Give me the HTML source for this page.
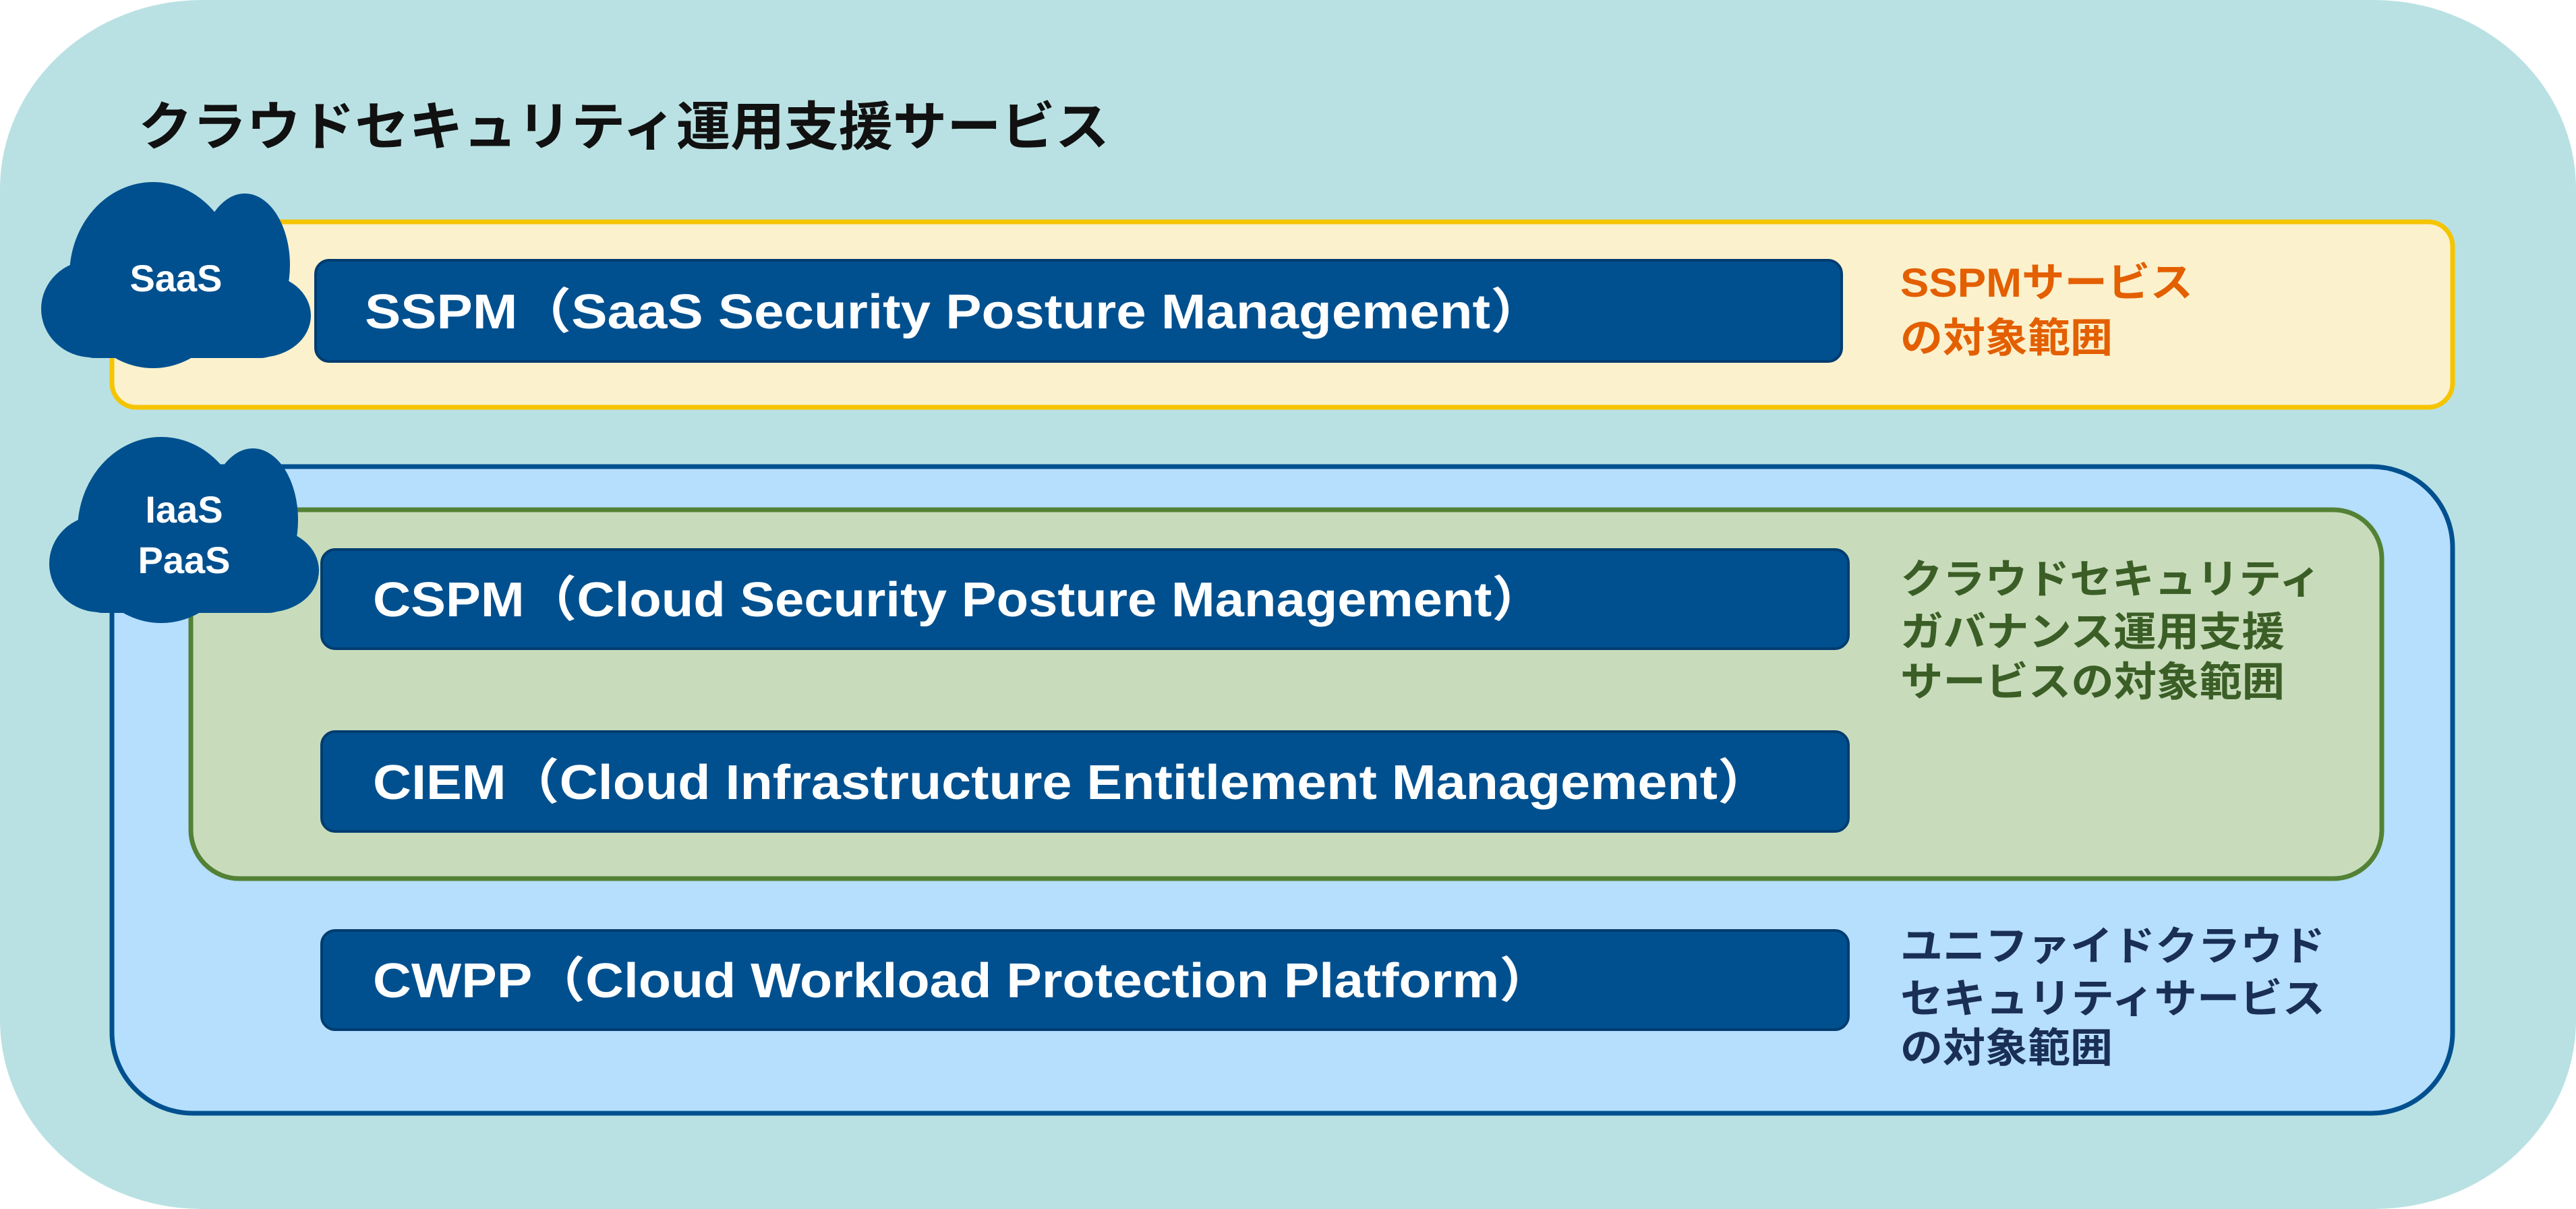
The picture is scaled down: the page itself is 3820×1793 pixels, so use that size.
<!DOCTYPE html>
<html><head><meta charset="utf-8"><style>
html,body{margin:0;padding:0;background:#fff;}
svg{display:block;}
text{font-family:"Liberation Sans","Noto Sans CJK JP",sans-serif;font-weight:bold;}
</style></head><body>
<svg width="3820" height="1793" viewBox="0 0 3820 1793" xmlns="http://www.w3.org/2000/svg">
<defs>
<g id="cloud">
<ellipse cx="166" cy="140" rx="124" ry="138" fill="#00508f"/>
<ellipse cx="302" cy="125" rx="67" ry="106" fill="#00508f"/>
<ellipse cx="75" cy="190" rx="75" ry="72" fill="#00508f"/>
<ellipse cx="325" cy="200" rx="75" ry="62" fill="#00508f"/>
<rect x="40" y="160" width="325" height="103" rx="40" fill="#00508f"/>
</g>
</defs>
<rect x="0" y="0" width="3820" height="1793" rx="300" ry="280" fill="#b9e1e3"/>
<text x="205" y="215" font-size="78" fill="#111" textLength="1440" lengthAdjust="spacingAndGlyphs">クラウドセキュリティ運用支援サービス</text>

<rect x="166" y="329" width="3471" height="275" rx="36" fill="#fbf1cd" stroke="#f5c400" stroke-width="7"/>
<rect x="468" y="386" width="2263" height="150" rx="20" fill="#00508f" stroke="#003c70" stroke-width="4"/>
<text x="541" y="487" font-size="72" fill="#fff" textLength="1749" lengthAdjust="spacingAndGlyphs">SSPM（SaaS Security Posture Management）</text>
<text x="2818" y="440" font-size="60" fill="#e35f00" textLength="434" lengthAdjust="spacingAndGlyphs">SSPMサービス</text>
<text x="2818" y="522" font-size="60" fill="#e35f00" textLength="315" lengthAdjust="spacingAndGlyphs">の対象範囲</text>
<use href="#cloud" x="61" y="268"/>
<text x="261" y="432" font-size="56" fill="#fff" text-anchor="middle">SaaS</text>

<rect x="166" y="692" width="3471" height="959" rx="120" fill="#b6defd" stroke="#00508f" stroke-width="7"/>
<rect x="283" y="756" width="3249" height="547" rx="72" fill="#c8dcbb" stroke="#538135" stroke-width="7"/>
<rect x="477" y="815" width="2264" height="147" rx="20" fill="#00508f" stroke="#003c70" stroke-width="4"/>
<text x="553" y="914" font-size="72" fill="#fff" textLength="1737" lengthAdjust="spacingAndGlyphs">CSPM（Cloud Security Posture Management）</text>
<rect x="477" y="1085" width="2264" height="148" rx="20" fill="#00508f" stroke="#003c70" stroke-width="4"/>
<text x="553" y="1185" font-size="72" fill="#fff" textLength="2073" lengthAdjust="spacingAndGlyphs">CIEM（Cloud Infrastructure Entitlement Management）</text>
<rect x="477" y="1380" width="2264" height="147" rx="20" fill="#00508f" stroke="#003c70" stroke-width="4"/>
<text x="553" y="1479" font-size="72" fill="#fff" textLength="1749" lengthAdjust="spacingAndGlyphs">CWPP（Cloud Workload Protection Platform）</text>

<text x="2818" y="880" font-size="60" fill="#3b5e26" textLength="624" lengthAdjust="spacingAndGlyphs">クラウドセキュリティ</text>
<text x="2818" y="958" font-size="60" fill="#3b5e26" textLength="570" lengthAdjust="spacingAndGlyphs">ガバナンス運用支援</text>
<text x="2818" y="1032" font-size="60" fill="#3b5e26" textLength="570" lengthAdjust="spacingAndGlyphs">サービスの対象範囲</text>

<text x="2818" y="1424" font-size="60" fill="#1a2f55" textLength="630" lengthAdjust="spacingAndGlyphs">ユニファイドクラウド</text>
<text x="2818" y="1502" font-size="60" fill="#1a2f55" textLength="630" lengthAdjust="spacingAndGlyphs">セキュリティサービス</text>
<text x="2818" y="1575" font-size="60" fill="#1a2f55" textLength="315" lengthAdjust="spacingAndGlyphs">の対象範囲</text>

<use href="#cloud" x="73" y="646"/>
<text x="273" y="775" font-size="56" fill="#fff" text-anchor="middle">IaaS</text>
<text x="273" y="850" font-size="56" fill="#fff" text-anchor="middle">PaaS</text>
</svg>
</body></html>
